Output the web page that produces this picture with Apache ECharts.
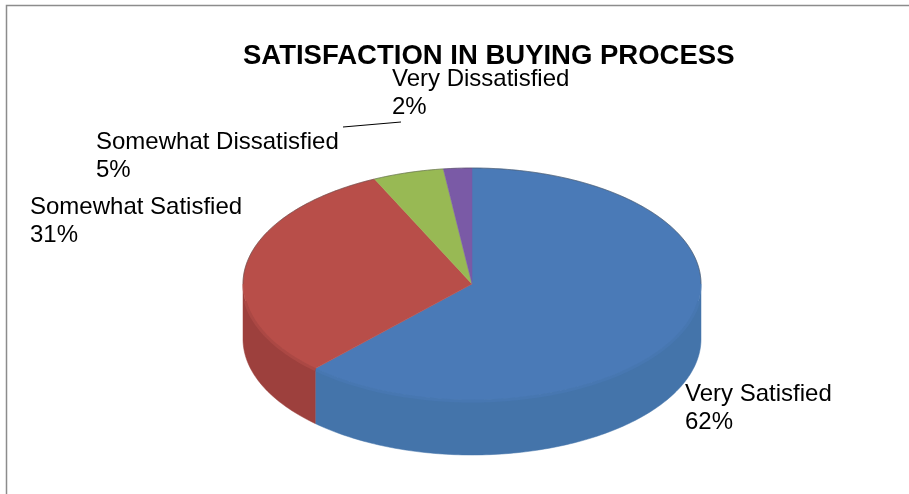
<!DOCTYPE html>
<html>
<head>
<meta charset="utf-8">
<style>
  html, body { margin: 0; padding: 0; background: #fff; }
  #chart { width: 909px; height: 494px; }
</style>
<script src="https://cdn.jsdelivr.net/npm/echarts@6/dist/echarts.min.js"></script>
</head>
<body>
<div id="chart"></div>
<script>
const categories = ['Very Satisfied', 'Somewhat Satisfied', 'Somewhat Dissatisfied', 'Very Dissatisfied']
const shares = [62, 31, 5, 2]
const chartTitle = 'SATISFACTION IN BUYING PROCESS'

const topColors = ['#4a7ab7', '#b84e49', '#98b954', '#7a5aa6']
const sideColors = ['#4474aa', '#9d403d', '#7f9a45', '#65498a']
const bevelColors = ['#4777b1', '#ab4844', '#8ca94d', '#705198']
const labelFont = 'Liberation Sans'

// ellipse of the tilted pie
const cx = 472
const cy = 284
const rx = 229
const ry = 116
const depth = 55

// x, y of each label's first line
const labelPlaces = [[685, 380], [30, 193], [96, 128], [392, 65]]

const total = shares.reduce((a, b) => a + b, 0)

function rim (deg, dy) {
  const t = deg * Math.PI / 180
  return [cx + rx * Math.sin(t), cy + dy - ry * Math.cos(t)]
}

// clockwise from 12 o'clock, like the pie in the picture
function arc (from, to, dy) {
  const pts = []
  const n = Math.max(2, Math.ceil(Math.abs(to - from)))
  for (let i = 0; i <= n; i++) {
    pts.push(rim(from + (to - from) * i / n, dy))
  }
  return pts
}

function renderSlice (params, api) {
  const i = params.dataIndex
  let before = 0
  for (let k = 0; k < i; k++) before += shares[k]
  const start = before / total * 360
  const end = start + api.value(1) / total * 360
  const children = []

  // only the front half of the rim shows a wall
  const wallFrom = Math.max(start, 90)
  const wallTo = Math.min(end, 270)
  if (wallTo > wallFrom) {
    children.push({
      type: 'polygon',
      shape: { points: arc(wallFrom, wallTo, 0).concat(arc(wallTo, wallFrom, depth)) },
      style: { fill: sideColors[i], stroke: sideColors[i], lineWidth: 0.5 }
    })
  }
  children.push({
    type: 'polygon',
    shape: { points: [[cx, cy]].concat(arc(start, end, 0)) },
    style: { fill: topColors[i], stroke: topColors[i], lineWidth: 0.5 }
  })
  // soft edge between top face and wall, stopped short of the sides so it stays inside
  const bevelFrom = Math.max(start, 98)
  const bevelTo = Math.min(end, 262)
  if (bevelTo > bevelFrom) {
    children.push({
      type: 'polyline',
      shape: { points: arc(bevelFrom, bevelTo, 1) },
      style: { fill: 'none', stroke: bevelColors[i], lineWidth: 3 }
    })
  }
  // thin grey line along the back of the pie
  const backParts = [[start, Math.min(end, 90)], [Math.max(start, 270), end]]
  backParts.forEach(part => {
    if (part[1] > part[0]) {
      children.push({
        type: 'polyline',
        shape: { points: arc(part[0], part[1], 0) },
        style: { fill: 'none', stroke: 'rgba(70,70,70,0.45)', lineWidth: 1 }
      })
    }
  })
  children.push({
    type: 'text',
    z2: 10,
    style: {
      x: labelPlaces[i][0],
      y: labelPlaces[i][1],
      text: categories[i] + '\n' + api.value(1) + '%',
      font: '24px "' + labelFont + '"',
      lineHeight: 28,
      fill: '#000'
    }
  })
  return { type: 'group', children }
}

const chart = echarts.init(document.getElementById('chart'))
chart.setOption({
  animation: false,
  backgroundColor: '#fff',
  title: {
    text: chartTitle,
    left: 243,
    top: 42,
    padding: 0,
    textStyle: { fontFamily: labelFont, fontSize: 27.5, fontWeight: 'bold', color: '#000' }
  },
  graphic: [
    {
      type: 'polyline',
      shape: { points: [[6.5, 494], [6.5, 5.5], [909, 5.5]] },
      style: { fill: 'none', stroke: '#8c8c8c', lineWidth: 1.5 }
    },
    {
      type: 'line',
      shape: { x1: 343, y1: 127, x2: 401, y2: 122 },
      style: { stroke: '#000', lineWidth: 1 }
    }
  ],
  series: [{
    type: 'custom',
    coordinateSystem: 'none',
    renderItem: renderSlice,
    data: categories.map((name, i) => [i, shares[i]])
  }]
})
</script>
</body>
</html>
